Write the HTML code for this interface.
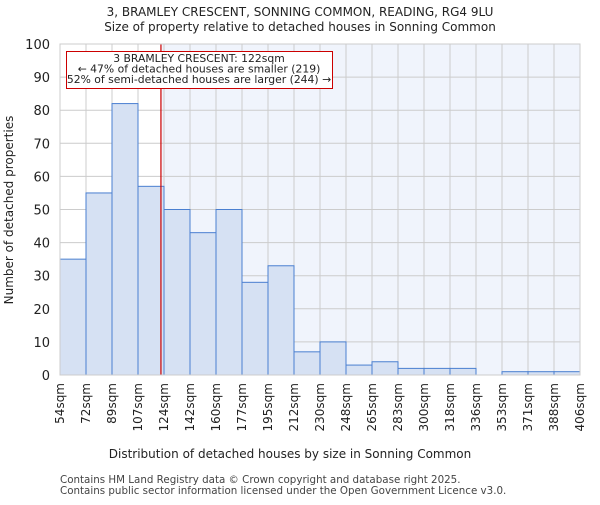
<!DOCTYPE html>
<html><head><meta charset="utf-8"><style>
body{margin:0;background:#fff;}
svg{font-family:"DejaVu Sans","Liberation Sans",sans-serif;}
</style></head><body>
<svg id="chart" width="600" height="500" xmlns="http://www.w3.org/2000/svg">
<text x="300" y="16" text-anchor="middle" font-size="12" fill="#222">3, BRAMLEY CRESCENT, SONNING COMMON, READING, RG4 9LU</text>
<text x="300" y="31" text-anchor="middle" font-size="12" fill="#222">Size of property relative to detached houses in Sonning Common</text>
<g id="plot"></g>
<text x="290" y="458" text-anchor="middle" font-size="12" fill="#222">Distribution of detached houses by size in Sonning Common</text>
<text transform="translate(13,210) rotate(-90)" text-anchor="middle" font-size="12" fill="#222">Number of detached properties</text>
<text x="60" y="483" font-size="10.3" fill="#444">Contains HM Land Registry data © Crown copyright and database right 2025.</text>
<text x="60" y="494" font-size="10.3" fill="#444">Contains public sector information licensed under the Open Government Licence v3.0.</text>
</svg>
<script>
const binEdges=[54,72,89,107,124,142,160,177,195,212,230,248,265,283,300,318,336,353,371,388,406];
const counts=[35,55,82,57,50,43,50,28,33,7,10,3,4,2,2,2,0,1,1,1];
const yTicks=[0,10,20,30,40,50,60,70,80,90,100];
const propertySize=122;
const annotationLines=["3 BRAMLEY CRESCENT: 122sqm","← 47% of detached houses are smaller (219)","52% of semi-detached houses are larger (244) →"];

const NS="http://www.w3.org/2000/svg";
const L=60,R=580,T=44,B=375;
const xi=i=>L+(R-L)*i/(binEdges.length-1);
const xv=v=>{for(let i=0;i<binEdges.length-1;i++){if(v<=binEdges[i+1]){return xi(i)+(xi(i+1)-xi(i))*(v-binEdges[i])/(binEdges[i+1]-binEdges[i]);}}return R;};
const y=v=>B-(B-T)*v/100;
const g=document.getElementById('plot');
function mk(tag,attrs){const e=document.createElementNS(NS,tag);for(const k in attrs)e.setAttribute(k,attrs[k]);g.appendChild(e);return e;}
const px=xv(propertySize);
let e;
e=mk('rect',{x:L,y:T,width:R-L,height:B-T,fill:'#fff'});


e=mk('rect',{x:px,y:T,width:R-px,height:B-T,fill:'#f0f4fc'});


yTicks.forEach(t=>{
 e=mk('line',{x1:L,x2:R,y1:y(t),y2:y(t),stroke:'#ccc','stroke-width':1});
 
 
 e=mk('text',{x:L-10,y:y(t)+5,'text-anchor':'end','font-size':13,fill:'#222'});
 e.textContent=t;
 
 
});
binEdges.forEach((b,i)=>{
 e=mk('line',{x1:xi(i),x2:xi(i),y1:T,y2:B,stroke:'#ccc','stroke-width':1});
 
 
 const tx=xi(i)+4;
 e=mk('text',{x:tx,y:B+8,transform:`rotate(-90 ${tx} ${B+8})`,'text-anchor':'end','font-size':12,fill:'#222'});
 e.textContent=b+'sqm';
 
 
});
counts.forEach((c,i)=>{
 e=mk('rect',{x:xi(i),y:y(c),width:xi(i+1)-xi(i),height:B-y(c),fill:'#d6e1f3',stroke:'#4a7fd0','stroke-width':1});
 
 
});
e=mk('line',{x1:px,x2:px,y1:T,y2:B,stroke:'#cc0000','stroke-width':1.2});


e=mk('rect',{x:66.5,y:51.5,width:266,height:37,fill:'#fff',stroke:'#cc0000','stroke-width':1});


annotationLines.forEach((s,i)=>{
 e=mk('text',{x:199,y:62+i*10.5,'text-anchor':'middle','font-size':10.8,fill:'#222'});
 e.textContent=s;
 
 
});
e=mk('rect',{x:L,y:T,width:R-L,height:B-T,fill:'none',stroke:'#ccc','stroke-width':1});


</script>
</body></html>
